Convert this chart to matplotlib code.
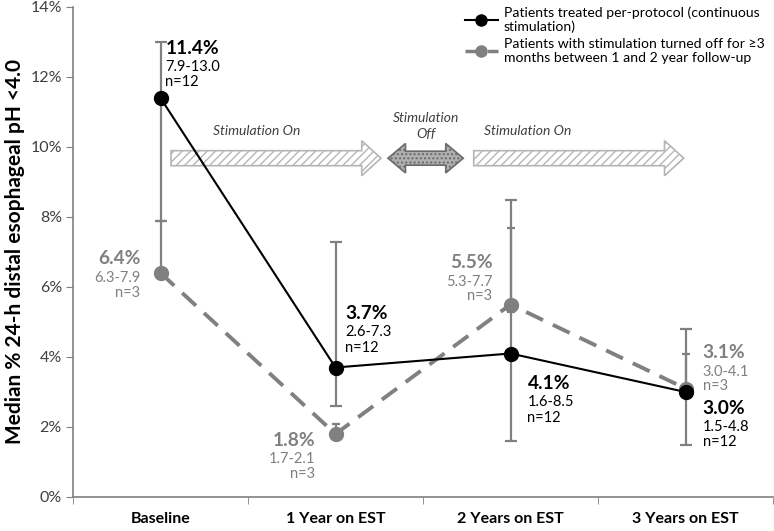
import matplotlib
matplotlib.use("Agg")
import matplotlib.pyplot as plt
import numpy as np
from matplotlib.patches import FancyArrow, Polygon
from matplotlib.lines import Line2D

plt.rcParams['font.family'] = ['Lato', 'DejaVu Sans']

# data
categories = ["Baseline", "1 Year on EST", "2 Years on EST", "3 Years on EST"]
cont_median = [11.4, 3.7, 4.1, 3.0]
cont_low = [7.9, 2.6, 1.6, 1.5]
cont_high = [13.0, 7.3, 8.5, 4.8]
cont_n = [12, 12, 12, 12]
off_median = [6.4, 1.8, 5.5, 3.1]
off_low = [6.3, 1.7, 5.3, 3.0]
off_high = [7.9, 2.1, 7.7, 4.1]
off_n = [3, 3, 3, 3]
yticks = [0, 2, 4, 6, 8, 10, 12, 14]

# stimulation phases: (label, start, end, kind, label x)
phases = [("Stimulation On", 0.06, 1.26, "on", 0.30),
          ("Stimulation\nOff", 1.30, 1.73, "off", 1.515),
          ("Stimulation On", 1.79, 2.99, "on", 1.85)]

# label layout: (dx px, dy px, ha)
cont_lbl = [(5, 50, "left"), (10, 54, "left"), (17, -30, "left"), (17, -16, "left")]
off_lbl = [(-20, 14, "right"), (-20, -6, "right"), (-18, 42, "right"), (17, 36, "left")]

BLACK = "#000000"
GRAY = "#808080"
TXT = "#404040"

fig = plt.figure(figsize=(7.74, 5.31), dpi=100)
ax = fig.add_axes([73/774, 34/531, 700/774, 490/531])
x = np.arange(len(categories))

# error bars
ax.errorbar(x, cont_median,
            yerr=[np.array(cont_median) - cont_low, np.array(cont_high) - cont_median],
            fmt="none", ecolor=GRAY, elinewidth=1.6, capsize=4.5, capthick=1.6, zorder=2)
ax.errorbar(x, off_median,
            yerr=[np.array(off_median) - off_low, np.array(off_high) - off_median],
            fmt="none", ecolor=GRAY, elinewidth=1.6, capsize=3, capthick=1.6, zorder=2)

ax.plot(x, off_median, color=GRAY, lw=2.8, ls=(0, (4.8, 2.8)), marker="o",
        ms=10, mfc=GRAY, mec=GRAY, zorder=3)
ax.plot(x, cont_median, color=BLACK, lw=1.5, marker="o", ms=10,
        mfc=BLACK, mec=BLACK, zorder=4)

# value labels
def put_label(xi, yi, val, lo, hi, n, lay, color):
    dx, dy, ha = lay
    ax.annotate(f"{val:.1f}%", (xi, yi), xytext=(dx, dy), textcoords="offset pixels",
                ha=ha, va="center", fontsize=13.8, fontweight="bold", color=color)
    ax.annotate(f"{lo:.1f}-{hi:.1f}", (xi, yi), xytext=(dx, dy - 19), textcoords="offset pixels",
                ha=ha, va="center", fontsize=10.5, color=color)
    ax.annotate(f"n={n}", (xi, yi), xytext=(dx, dy - 34), textcoords="offset pixels",
                ha=ha, va="center", fontsize=10.5, color=color)

for i in range(len(categories)):
    put_label(x[i], cont_median[i], cont_median[i], cont_low[i], cont_high[i], cont_n[i], cont_lbl[i], BLACK)
    put_label(x[i], off_median[i], off_median[i], off_low[i], off_high[i], off_n[i], off_lbl[i], GRAY)

# phase arrows
ya = 9.68
for label, x0, x1, kind, xt in phases:
    if kind == "on":
        arr = FancyArrow(x0, ya, x1 - x0, 0, width=0.43, head_width=1.0,
                         head_length=0.11, length_includes_head=True,
                         facecolor="white", edgecolor="#b5b5b5", hatch="////",
                         lw=1.2, zorder=1)
        ax.add_patch(arr)
        ax.text(xt, 10.45, label, ha="left", va="center",
                fontsize=10, style="italic", color=TXT)
    else:
        hl, bw, hw = 0.1, 0.2, 0.42
        pts = [(x0, ya), (x0 + hl, ya + hw), (x0 + hl, ya + bw), (x1 - hl, ya + bw),
               (x1 - hl, ya + hw), (x1, ya), (x1 - hl, ya - hw), (x1 - hl, ya - bw),
               (x0 + hl, ya - bw), (x0 + hl, ya - hw)]
        poly = Polygon(pts, closed=True, facecolor="#b0b0b0", edgecolor="#6a6a6a",
                       hatch="....", lw=1.2, zorder=1)
        ax.add_patch(poly)
        ax.text(xt, 10.6, label, ha="center", va="center",
                fontsize=10, style="italic", color=TXT, linespacing=1.4)

# axes styling
ax.set_xlim(-0.5, len(categories) - 0.5)
ax.set_ylim(0, 14)
ax.set_yticks(yticks)
ax.set_yticklabels([f"{t}%" for t in yticks], fontsize=11.5, color=TXT)
ax.set_xticks(x)
ax.set_xticklabels(categories, fontsize=11.5, fontweight="bold", color=BLACK)
ax.tick_params(axis="x", length=0, pad=11)
ax.set_xticks(np.arange(-0.5, len(categories)), minor=True)
ax.tick_params(axis="x", which="minor", length=5, color=GRAY)
ax.tick_params(axis="y", length=5, color=GRAY, pad=3)
for s in ["top", "right"]:
    ax.spines[s].set_visible(False)
for s in ["left", "bottom"]:
    ax.spines[s].set_color(GRAY)
    ax.spines[s].set_linewidth(1.2)
ax.set_ylabel("Median % 24-h distal esophageal pH <4.0", fontsize=15,
              fontweight="bold", labelpad=4)

handles = [Line2D([], [], color=BLACK, lw=1.5, marker="o", ms=8),
           Line2D([], [], color=GRAY, lw=2.5, ls=(0, (4, 2.5)), marker="o", ms=8)]
fig.legend(handles,
           ["Patients treated per-protocol (continuous\nstimulation)",
            "Patients with stimulation turned off for ≥3\nmonths between 1 and 2 year follow-up"],
           loc="upper left", bbox_to_anchor=(452/774, 1.012), frameon=False,
           fontsize=10.1, handlelength=2.4, labelspacing=0.35, handletextpad=0.4)

fig.savefig("out.png", dpi=100)
